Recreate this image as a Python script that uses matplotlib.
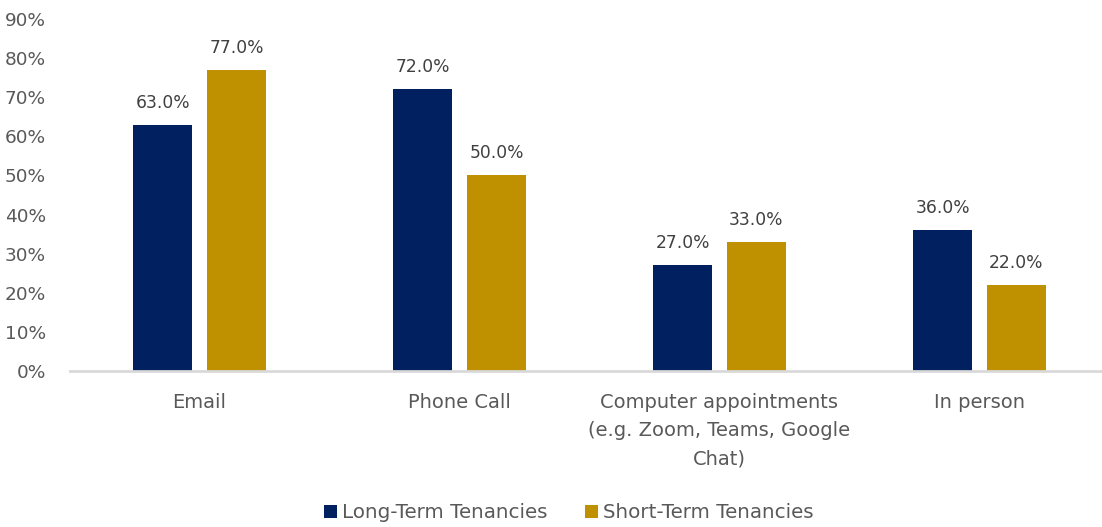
import numpy as np
import matplotlib.pyplot as plt
from matplotlib.ticker import PercentFormatter

# --- datos del gráfico ---
categorias = ["Email", "Phone Call",
              "Computer appointments\n(e.g. Zoom, Teams, Google\nChat)",
              "In person"]
largo_plazo = [63.0, 72.0, 27.0, 36.0]
corto_plazo = [77.0, 50.0, 33.0, 22.0]
series = ["Long-Term Tenancies", "Short-Term Tenancies"]

AZUL = "#002060"
ORO = "#BF9000"
GRIS_TXT = "#595959"

plt.rcParams["font.family"] = ["DejaVu Sans"]

fig = plt.figure(figsize=(11.02, 5.27), dpi=100)
ax = fig.add_axes([69.5 / 1102, 156 / 527, 1040 / 1102, 352 / 527])

x = np.arange(len(categorias))
ancho = 0.23
desp = 0.142

b1 = ax.bar(x - desp, largo_plazo, ancho, color=AZUL, label=series[0])
b2 = ax.bar(x + desp, corto_plazo, ancho, color=ORO, label=series[1])

# etiquetas de valor sobre cada barra
for barras in (b1, b2):
    for r in barras:
        h = r.get_height()
        ax.annotate(f"{h:.1f}%", (r.get_x() + r.get_width() / 2, h),
                    xytext=(0, 12.2), textcoords="offset points",
                    ha="center", va="baseline", fontsize=12.3, color="#404040")

ax.set_xlim(-0.5, len(categorias) - 0.5)
ax.set_ylim(0, 90)
ax.set_yticks(np.arange(0, 91, 10))
ax.yaxis.set_major_formatter(PercentFormatter(decimals=0))
ax.set_xticks(x)
ax.set_xticklabels(categorias, linespacing=1.6)

ax.tick_params(axis="y", length=0, pad=17, labelsize=13.3, labelcolor=GRIS_TXT)
ax.tick_params(axis="x", length=0, pad=16, labelsize=14.0, labelcolor=GRIS_TXT)

for lado in ("top", "right", "left"):
    ax.spines[lado].set_visible(False)
ax.spines["bottom"].set_color("#D9D9D9")
ax.spines["bottom"].set_linewidth(2)

fig.legend(handles=[b1, b2], labels=series, loc="center",
           bbox_to_anchor=(569 / 1102, 14 / 527), ncol=2, frameon=False,
           fontsize=14.3, labelcolor=GRIS_TXT, handlelength=0.65,
           handleheight=0.65, handletextpad=0.25, columnspacing=1.9)

fig.savefig("out.png", dpi=100)
